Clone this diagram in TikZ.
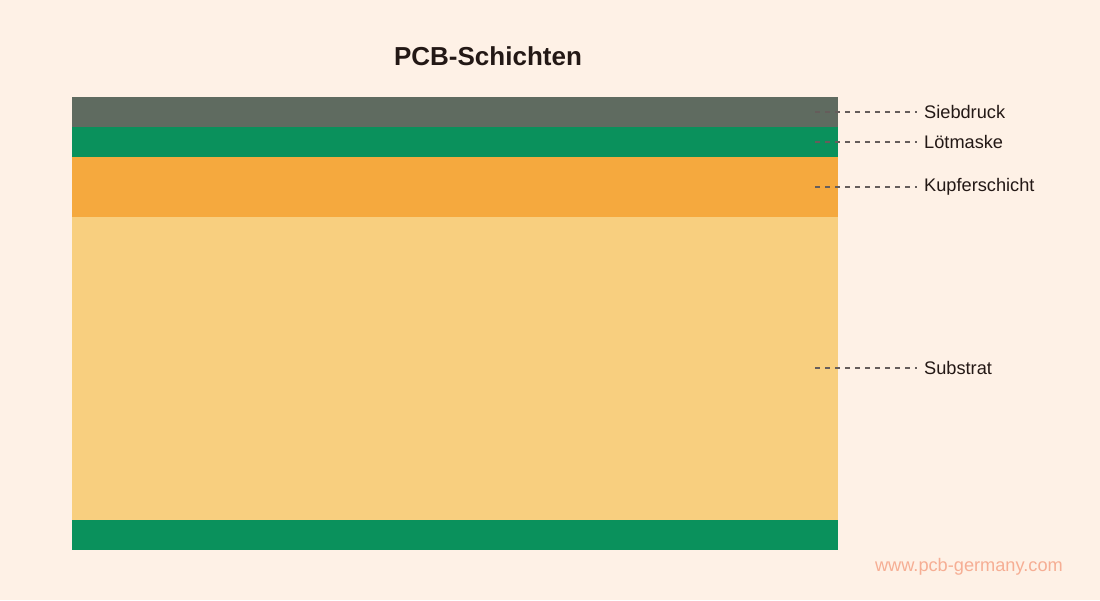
\documentclass[tikz,border=0pt]{standalone}
\usepackage{fontspec}
\setmainfont{Liberation Sans}
\usetikzlibrary{positioning}
\definecolor{bgcol}{HTML}{FEF1E6}
\definecolor{silkcol}{HTML}{5F6B60}
\definecolor{maskcol}{HTML}{0A915C}
\definecolor{coppercol}{HTML}{F5A93E}
\definecolor{substcol}{HTML}{F8CF7F}
\definecolor{textcol}{HTML}{231815}
\definecolor{urlcol}{HTML}{F6AE94}
\tikzset{
  layer/.style={draw=none, inner sep=0, outer sep=0},
  leader/.style={dash pattern=on 5pt off 5pt, line width=1.2pt, draw=textcol!70},
  lbl/.style={anchor=west, inner sep=0, text=textcol, font=\fontsize{18.2}{20}\selectfont}
}
\begin{document}
\begin{tikzpicture}[x=1pt, y=-1pt]

            % Define background and bounding box
            \fill[bgcol] (0,0) rectangle (1100,600);
            \useasboundingbox (0,0) rectangle (1100,600);
            \node[text=textcol, font=\bfseries\fontsize{26}{30}\selectfont] (title) at (488,56) {PCB-Schichten};
            % Layers
            \fill[layer, silkcol] (72,97) rectangle (838,127);
            \fill[layer, maskcol] (72,127) rectangle (838,157);
            \fill[layer, coppercol] (72,157) rectangle (838,217);
            \fill[layer, substcol] (72,217) rectangle (838,520);
            \fill[layer, maskcol] (72,520) rectangle (838,550);
            % Labels
            \coordinate (silk) at (815,112);
            \coordinate (mask) at (815,142);
            \coordinate (copper) at (815,187);
            \coordinate (subst) at (815,368);
            \node[lbl] (silklbl) at (924,112) {Siebdruck};
            \node[lbl] (masklbl) at (924,142) {Lötmaske};
            \node[lbl] (copperlbl) at (924,187) {Kupferschicht};
            \node[lbl] (substlbl) at (924,368) {Substrat};
            \draw[leader] (silk) -- ([xshift=-7pt]silklbl.west);
            \draw[leader] (mask) -- ([xshift=-7pt]masklbl.west);
            \draw[leader] (copper) -- ([xshift=-7pt]copperlbl.west);
            \draw[leader] (subst) -- ([xshift=-7pt]substlbl.west);
            \node[anchor=east, inner sep=0, text=urlcol, font=\fontsize{18.2}{20}\selectfont] (url) at (1063,567) {www.pcb-germany.com};
        \end{tikzpicture}
\end{document}
